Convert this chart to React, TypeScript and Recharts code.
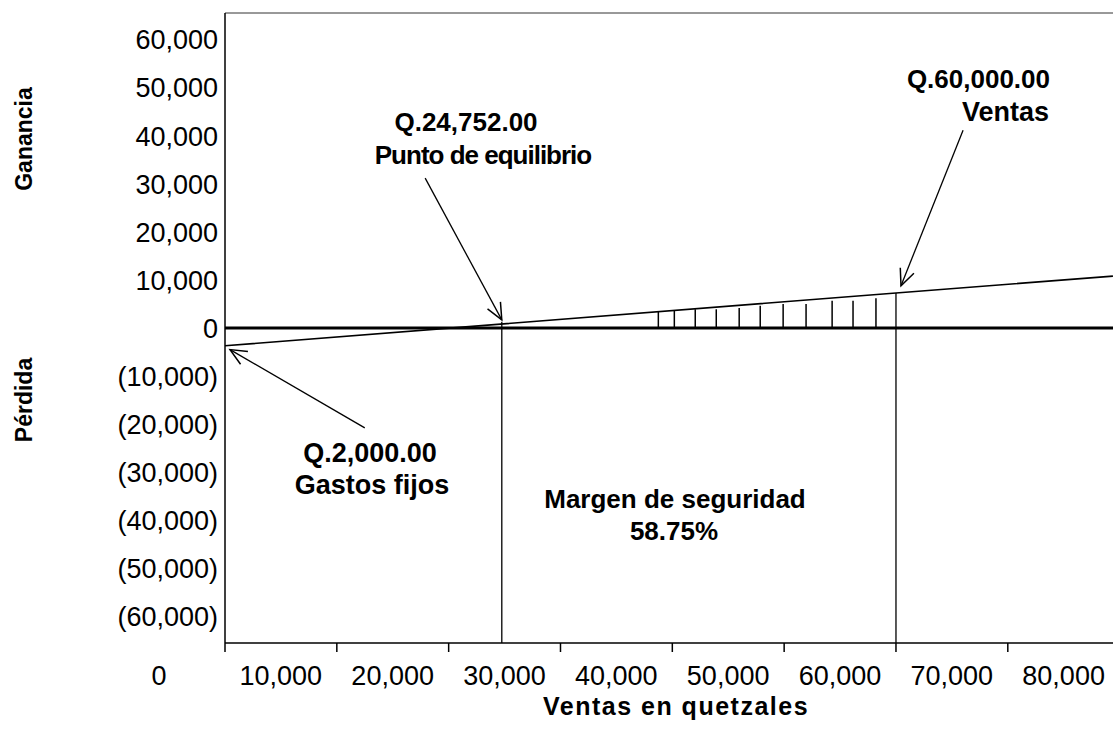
import {
  LineChart,
  Line,
  XAxis,
  YAxis,
  ReferenceLine,
} from "recharts";

// punto de equilibrio: ventas vs. ganancia/pérdida
const VENTAS = [0, 60000, 79400];
const RESULTADO = [-3700, 7300, 10800];

const X_TICKS = [0, 10000, 20000, 30000, 40000, 50000, 60000, 70000, 80000];
const Y_TICKS = [-60000, -50000, -40000, -30000, -20000, -10000, 0, 10000, 20000, 30000, 40000, 50000, 60000];

const EQUILIBRIO = 24752;
const EQUILIBRIO_Y = 1300;
const VENTAS_ACTUALES = 60000;
const VENTAS_ACTUALES_Y = 7300;

// rayado del margen de seguridad
const HATCH_X = [38750, 40180, 42050, 43930, 45980, 47860, 49910, 51960, 54290, 56160, 58210];
const HATCH_TOP = [3380, 3640, 3930, 3900, 4140, 4630, 4980, 4980, 5680, 5680, 6170];

// flechas: [desde, hasta]
const ARROWS = [
  [{ x: 17900, y: 31200 }, { x: 24752, y: 1700 }],
  [{ x: 66000, y: 41200 }, { x: 60450, y: 8800 }],
  [{ x: 12500, y: -20800 }, { x: 450, y: -4500 }],
];

const X_MAX = 82000;
const Y_MAX = 65600;

const FONT = "'Liberation Sans', Arial, sans-serif";

const data = VENTAS.map((v, i) => ({ x: v, y: RESULTADO[i] }));

const fmt = (v: number) => Math.abs(v).toLocaleString("en-US");
const fmtY = (v: number) => (v < 0 ? `(${fmt(v)})` : fmt(v));

const XTick = (props: any) => {
  const { x, y, payload } = props;
  const dx = payload.value === 0 ? -66 : -56;
  return (
    <text x={x + dx} y={y + 31} textAnchor="middle" fontSize={27} fontFamily={FONT} fill="#000">
      {fmt(payload.value)}
    </text>
  );
};

const Arrow = (props: any) => {
  const { x1, y1, x2, y2 } = props;
  const ang = Math.atan2(y2 - y1, x2 - x1);
  const len = 18;
  const spread = 0.42;
  const ax = x2 - len * Math.cos(ang - spread);
  const ay = y2 - len * Math.sin(ang - spread);
  const bx = x2 - len * Math.cos(ang + spread);
  const by = y2 - len * Math.sin(ang + spread);
  return (
    <g>
      <line x1={x1} y1={y1} x2={x2} y2={y2} stroke="#000" strokeWidth={1.3} />
      <polyline points={`${ax},${ay} ${x2},${y2} ${bx},${by}`} fill="none" stroke="#000" strokeWidth={1.5} />
    </g>
  );
};

const Note = ({ x, y, anchor = "middle", size = 26, spacing = 0, children }: any) => (
  <text
    x={x}
    y={y}
    textAnchor={anchor}
    dominantBaseline="central"
    fontSize={size}
    fontWeight="bold"
    fontFamily={FONT}
    letterSpacing={spacing}
    fill="#000"
  >
    {children}
  </text>
);

export default function App() {
  return (
    <div
      style={{
        position: "fixed",
        left: 0,
        top: 0,
        width: 1113,
        height: 729,
        overflow: "hidden",
        background: "#fff",
      }}
    >
      <LineChart
        width={1160}
        height={729}
        data={data}
        margin={{ top: 13, right: 18, bottom: 36, left: 0 }}
      >
        <XAxis
          type="number"
          dataKey="x"
          domain={[0, X_MAX]}
          ticks={X_TICKS}
          interval={0}
          height={50}
          tickSize={9}
          axisLine={{ stroke: "#000", strokeWidth: 1.5 }}
          tickLine={{ stroke: "#000", strokeWidth: 1.5 }}
          tick={<XTick />}
        />
        <YAxis
          type="number"
          domain={[-Y_MAX, Y_MAX]}
          ticks={Y_TICKS}
          interval={0}
          width={225}
          tickSize={0}
          tickMargin={7}
          tickFormatter={fmtY}
          axisLine={{ stroke: "#000", strokeWidth: 1.5 }}
          tick={{ fill: "#000", fontSize: 27, fontFamily: FONT }}
        />
        <ReferenceLine y={Y_MAX} stroke="#333" strokeWidth={1} />
        <ReferenceLine y={0} stroke="#000" strokeWidth={3} />
        {HATCH_X.map((hx, i) => (
          <ReferenceLine
            key={hx}
            segment={[{ x: hx, y: 0 }, { x: hx, y: HATCH_TOP[i] }]}
            stroke="#000"
            strokeWidth={1.5}
          />
        ))}
        <ReferenceLine
          segment={[{ x: EQUILIBRIO, y: EQUILIBRIO_Y }, { x: EQUILIBRIO, y: -Y_MAX }]}
          stroke="#000"
          strokeWidth={1.3}
        />
        <ReferenceLine
          segment={[{ x: VENTAS_ACTUALES, y: VENTAS_ACTUALES_Y }, { x: VENTAS_ACTUALES, y: -Y_MAX }]}
          stroke="#000"
          strokeWidth={1.3}
        />
        {ARROWS.map((a, i) => (
          <ReferenceLine key={i} segment={a} shape={<Arrow />} ifOverflow="visible" />
        ))}
        <Line
          type="linear"
          dataKey="y"
          stroke="#000"
          strokeWidth={1.6}
          dot={false}
          isAnimationActive={false}
        />
        <g>
          <text
            x={24}
            y={139}
            transform="rotate(-90, 24, 139)"
            textAnchor="middle"
            dominantBaseline="central"
            fontSize={23}
            fontWeight="bold"
            fontFamily={FONT}
          >
            Ganancia
          </text>
          <text
            x={24}
            y={400}
            transform="rotate(-90, 24, 400)"
            textAnchor="middle"
            dominantBaseline="central"
            fontSize={23}
            fontWeight="bold"
            fontFamily={FONT}
          >
            Pérdida
          </text>
          <Note x={676} y={706} size={25} spacing={1.5}>Ventas en quetzales</Note>
          <Note x={466} y={122}>Q.24,752.00</Note>
          <Note x={483} y={155} spacing={-1}>Punto de equilibrio</Note>
          <Note x={1050} y={79} anchor="end">Q.60,000.00</Note>
          <Note x={1049} y={112} anchor="end" size={27}>Ventas</Note>
          <Note x={370} y={453} size={27}>Q.2,000.00</Note>
          <Note x={372} y={485} size={27}>Gastos fijos</Note>
          <Note x={675} y={499}>Margen de seguridad</Note>
          <Note x={674} y={531}>58.75%</Note>
        </g>
      </LineChart>
    </div>
  );
}
